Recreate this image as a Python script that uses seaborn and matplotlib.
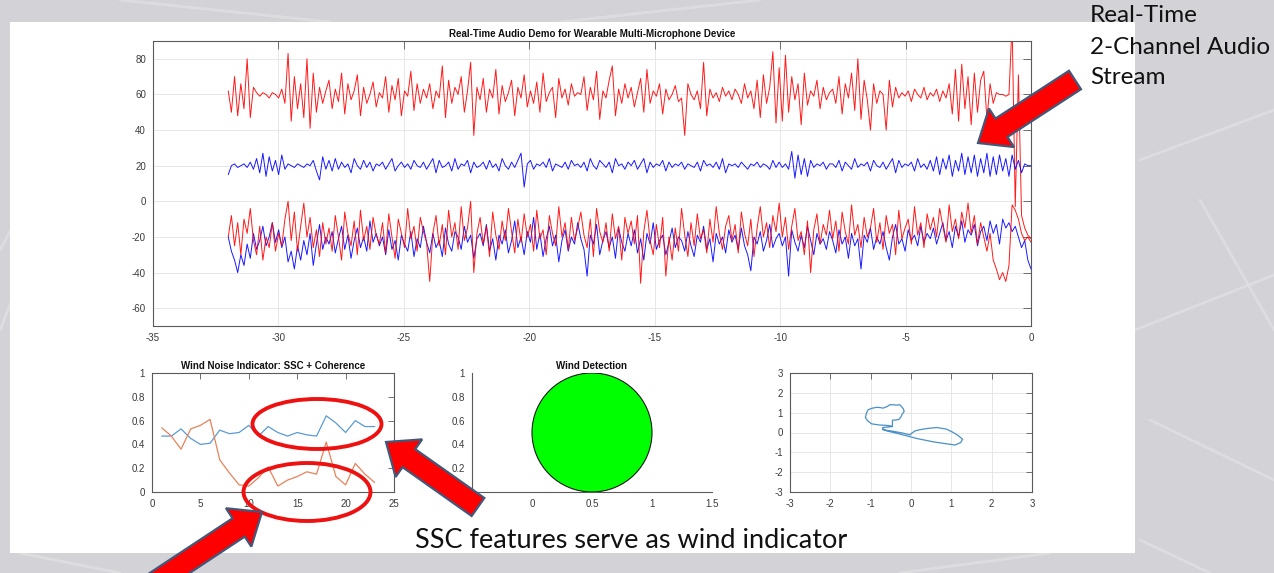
import numpy as np
import matplotlib
matplotlib.use("Agg")
import matplotlib.pyplot as plt
import seaborn as sns
from matplotlib.patches import Rectangle, Ellipse, Polygon
from matplotlib.lines import Line2D

# ---------------------------------------------------------------- data
# Two-channel stream, four traces over the last 32 s (one sample per ~0.125 s)
RED_TOP = [
    62, 50, 70, 48, 66, 52, 80, 47, 64, 61, 59, 61, 60, 58, 61, 60,
    58, 63, 55, 83, 45, 70, 52, 66, 47, 80, 41, 72, 50, 64, 55, 62,
    68, 52, 63, 56, 72, 49, 66, 57, 62, 71, 48, 64, 55, 60, 67, 53,
    61, 58, 70, 50, 65, 57, 69, 48, 62, 59, 73, 51, 66, 55, 63, 58,
    66, 52, 62, 58, 76, 47, 68, 55, 64, 60, 70, 50, 62, 78, 37, 64,
    57, 69, 50, 63, 58, 74, 49, 65, 56, 61, 68, 48, 64, 58, 71, 53,
    62, 55, 67, 50, 72, 56, 61, 64, 47, 69, 58, 63, 54, 66, 59, 61,
    60, 70, 51, 64, 57, 73, 46, 62, 58, 68, 76, 48, 63, 55, 66, 58,
    64, 53, 61, 69, 50, 74, 55, 62, 59, 66, 49, 63, 57, 60, 65, 56,
    58, 37, 66, 60, 57, 62, 52, 78, 48, 63, 58, 61, 56, 64, 59, 62,
    57, 63, 60, 55, 66, 58, 62, 52, 68, 47, 71, 55, 64, 84, 44, 75,
    45, 82, 50, 70, 57, 66, 43, 72, 54, 62, 59, 68, 52, 64, 57, 61,
    63, 55, 70, 49, 66, 58, 72, 51, 80, 46, 68, 57, 40, 66, 55, 62,
    60, 40, 68, 53, 64, 58, 61, 59, 62, 56, 63, 60, 58, 64, 57, 61,
    59, 63, 56, 62, 58, 66, 49, 74, 45, 77, 52, 70, 43, 72, 50, 68,
    73, 46, 66, 55, 61, 60, 60, 59, 60, 100, -3, 71, -8, -15, -19, -21,
]
BLUE_MID = [
    15, 20, 21, 19, 20, 21, 19, 22, 18, 24, 16, 27, 14, 25, 17, 23,
    15, 26, 18, 21, 20, 19, 21, 20, 19, 21, 20, 23, 17, 12, 25, 18,
    23, 17, 24, 18, 22, 19, 21, 16, 24, 20, 18, 23, 19, 22, 17, 21,
    20, 22, 18, 21, 24, 17, 20, 22, 19, 21, 18, 23, 20, 19, 22, 18,
    21, 24, 16, 23, 19, 20, 22, 17, 24, 18, 21, 20, 23, 16, 22, 19,
    20, 22, 18, 23, 19, 21, 17, 24, 20, 18, 22, 19, 23, 27, 8, 21,
    23, 18, 21, 20, 22, 19, 24, 17, 21, 20, 19, 22, 18, 23, 20, 21,
    19, 22, 17, 24, 20, 18, 23, 21, 19, 22, 16, 24, 20, 21, 18, 22,
    20, 23, 18, 21, 24, 16, 22, 19, 21, 20, 23, 17, 22, 19, 21, 20,
    22, 18, 21, 20, 19, 22, 17, 23, 20, 21, 19, 22, 18, 24, 16, 21,
    20, 21, 19, 22, 20, 18, 21, 20, 22, 19, 21, 20, 18, 23, 19, 22,
    19, 21, 18, 28, 13, 26, 15, 24, 14, 23, 19, 21, 20, 22, 18, 21,
    21, 19, 23, 17, 22, 20, 18, 24, 19, 21, 20, 22, 17, 23, 20, 19,
    22, 18, 21, 24, 16, 23, 19, 21, 20, 22, 17, 24, 19, 21, 18, 23,
    17, 25, 15, 24, 18, 26, 14, 23, 17, 27, 15, 25, 16, 26, 14, 24,
    16, 27, 14, 25, 15, 26, 17, 24, 14, 26, 18, 23, 16, 21, 20, 20,
]
RED_BOT = [
    -20, -8, -25, -12, -30, -10, -18, -4, -22, -30, -14, -33, -20, -26, -12, -28,
    -18, -25, -10, 0, -22, -6, -28, -14, -1, -20, -9, -26, -16, -31, -12, -24,
    -15, -28, -8, -20, -33, -6, -18, -25, -11, -30, -5, -22, -14, -27, -9, -19,
    -24, -12, -29, -7, -20, -32, -10, -18, -26, -4, -21, -14, -28, -9, -17, -23,
    -45, -18, -8, -25, -13, -30, -5, -20, -12, -27, -3, -22, -15, 0, -40, -18,
    -9, -24, -14, -31, -6, -19, -27, -11, -22, -4, -17, -29, -10, -23, -7, -20,
    -13, -28, -5, -21, -16, -30, -8, -18, -25, -3, -20, -12, -27, -9, -22, -15,
    -6, -19, -26, -10, -31, -4, -17, -23, -12, -28, -7, -21, -14, -33, -9, -18,
    -11, -24, -8, -46, -17, -5, -22, -30, -13, -26, -9, -42, -20, -33, -15, -28,
    -4, -19, -31, -12, -25, -7, -21, -16, -29, -10, -23, -3, -18, -27, -14, -8,
    -22, -13, -29, -6, -18, -25, -10, -31, -15, -3, -20, -12, -26, -8, -17, -1,
    -20, -9, -27, -14, -4, -22, -17, -30, -11, -40, -16, -7, -24, -13, -19, -5,
    -21, -11, -28, -6, -17, -24, -2, -19, -13, -26, -9, -20, -15, -4, -23, -12,
    -27, -8, -18, -13, -30, -5, -21, -15, -10, -24, -3, -19, -12, -26, -7, -16,
    -9, -20, -4, -14, -23, -2, -17, -10, -21, -6, -15, -1, -18, -8, -24, -12,
    -20, -28, -18, -33, -38, -44, -40, -45, -36, -2, -5, -10, -18, -22, -20, -23,
]
BLUE_BOT = [
    -20, -28, -33, -40, -30, -36, -24, -32, -18, -27, -22, -14, -25, -20, -12, -23,
    -16, -26, -20, -34, -28, -38, -25, -33, -22, -30, -18, -36, -24, -13, -27, -20,
    -24, -17, -29, -21, -14, -27, -19, -32, -22, -15, -26, -20, -28, -11, -23, -18,
    -25, -20, -30, -16, -27, -22, -33, -19, -24, -28, -17, -31, -21, -26, -14, -23,
    -29, -18, -26, -22, -31, -15, -24, -28, -17, -20, -27, -14, -23, -19, -32, -21,
    -18, -25, -13, -28, -21, -33, -19, -24, -16, -29, -22, -11, -26, -20, -30, -17,
    -23, -9, -27, -18, -31, -21, -14, -25, -19, -34, -22, -16, -28, -20, -24, -12,
    -21, -27, -42, -19, -24, -13, -30, -22, -17, -26, -20, -32, -15, -23, -28, -18,
    -25, -16, -29, -21, -33, -18, -24, -12, -27, -22, -19, -30, -23, -15, -26, -20,
    -22, -28, -17, -25, -31, -19, -23, -14, -27, -21, -34, -18, -24, -20, -29, -16,
    -23, -19, -27, -15, -25, -30, -39, -20, -24, -17, -28, -22, -13, -26, -21, -18,
    -25, -20, -42, -16, -23, -28, -19, -26, -14, -22, -30, -18, -24, -21, -27, -17,
    -22, -29, -16, -24, -20, -32, -18, -25, -21, -38, -19, -23, -15, -27, -20, -24,
    -17, -26, -33, -20, -13, -24, -21, -28, -16, -22, -19, -25, -14, -23, -18, -21,
    -15, -24, -18, -12, -22, -17, -26, -14, -20, -11, -23, -16, -19, -13, -25, -17,
    -14, -22, -11, -18, -13, -24, -10, -15, -12, -17, -14, -20, -26, -22, -33, -38,
]

# Wind noise indicator per analysis frame
FRAMES = list(range(1, 24))
COHERENCE = [0.47, 0.47, 0.53, 0.45, 0.40, 0.41, 0.52, 0.49, 0.50, 0.56, 0.47, 0.55,
             0.50, 0.47, 0.50, 0.48, 0.47, 0.64, 0.58, 0.50, 0.60, 0.55, 0.55]
SSC = [0.54, 0.47, 0.36, 0.53, 0.56, 0.61, 0.27, 0.16, 0.06, 0.05, 0.12, 0.21,
       0.05, 0.10, 0.13, 0.17, 0.15, 0.42, 0.13, 0.06, 0.24, 0.15, 0.08]

# Wind detection lamp: centre and radius
LAMP_CENTER = (0.5, 0.5)
LAMP_RADIUS = 0.5

# Phase trajectory of the two channels
TRAJ_X = [-0.46, -0.46, -0.38, -0.30, -0.25, -0.22, -0.17, -0.19, -0.25, -0.28,
          -0.36, -0.44, -0.52, -0.60, -0.69, -0.78, -0.85, -0.97, -1.06, -1.10,
          -1.13, -1.08, -0.98, -0.80, -0.62, -0.50, -0.46, -0.70, -0.70, -0.44,
          -0.20, -0.02, 0.02, 0.10, 0.22, 0.39, 0.64, 0.88, 1.05, 1.18,
          1.28, 1.23, 1.09, 0.88, 0.55, 0.14, -0.27, -0.60, -0.70]
TRAJ_Y = [0.30, 0.62, 0.63, 0.66, 0.78, 0.92, 1.06, 1.20, 1.34, 1.40,
          1.38, 1.40, 1.40, 1.30, 1.23, 1.26, 1.27, 1.22, 1.15, 1.00,
          0.75, 0.60, 0.44, 0.38, 0.36, 0.33, 0.30, 0.25, 0.14, 0.06,
          -0.03, -0.12, -0.03, 0.08, 0.14, 0.20, 0.25, 0.17, 0.00, -0.17,
          -0.34, -0.51, -0.63, -0.57, -0.47, -0.30, -0.08, 0.08, 0.17]

MAIN_TITLE = "Real-Time Audio Demo for Wearable Multi-Microphone Device"
IND_TITLE = "Wind Noise Indicator: SSC + Coherence"
DET_TITLE = "Wind Detection"
CAPTION = "SSC features serve as wind indicator"
SIDE_NOTE = ["Real-Time", "2-Channel Audio", "Stream"]

# ---------------------------------------------------------------- style
sns.set_theme(style="white")
plt.rcParams["font.family"] = ["Liberation Sans", "DejaVu Sans"]
plt.rcParams["axes.unicode_minus"] = False

W, H = 1274, 573
fig = plt.figure(figsize=(W / 100, H / 100), dpi=100)
fig.patch.set_facecolor("#d3d3d7")


def px(x, y):
    return x / W, 1 - y / H


def ax_rect(l, t, r, b):
    return [l / W, 1 - b / H, (r - l) / W, (b - t) / H]


# faint network pattern on the slide background
for (x0, y0, x1, y1) in [(0, 250, 70, 120), (0, 330, 12, 300), (120, 0, 330, 22),
                         (560, 22, 760, 0), (1135, 330, 1274, 275), (1140, 160, 1274, 110),
                         (1150, 420, 1274, 480), (1140, 540, 1210, 573), (1200, 200, 1274, 330),
                         (20, 553, 120, 573), (900, 573, 1050, 553)]:
    a, b = px(x0, y0)
    c, d = px(x1, y1)
    fig.add_artist(Line2D([a, c], [b, d], color="#e0e0e3", lw=2.0, alpha=0.8,
                          zorder=-20, transform=fig.transFigure))

# white figure panel
l0, b0 = px(10, 553)
fig.add_artist(Rectangle((l0, b0), 1125 / W, 531 / H, facecolor="white",
                         edgecolor="none", transform=fig.transFigure, zorder=-10))

SPINE = "#5a5a5a"
LABEL = "#3a3a3a"


def matlab_axes(ax, box=True, grid=False):
    ax.set_facecolor("white")
    for side, sp in ax.spines.items():
        sp.set_color(SPINE)
        sp.set_linewidth(0.8)
        if not box and side in ("top", "right"):
            sp.set_visible(False)
    ax.tick_params(direction="in", length=4, width=0.6, color=SPINE,
                   labelcolor=LABEL, labelsize=7, top=box, right=box,
                   pad=5)
    if grid:
        ax.grid(True, color="#e3e3e3", lw=0.6)
        ax.set_axisbelow(True)
    else:
        ax.grid(False)


# ---------------------------------------------------------------- main stream
ax = fig.add_axes(ax_rect(153, 41, 1031, 326))
matlab_axes(ax, box=True, grid=True)
for series, color in [(RED_TOP, "#ff0000"), (BLUE_MID, "#0000ff"),
                      (BLUE_BOT, "#0000ff"), (RED_BOT, "#ff0000")]:
    t = np.linspace(-32, 0, len(series))
    sns.lineplot(x=t, y=series, color=color, lw=0.7, ax=ax,
                 estimator=None, sort=False, alpha=0.9)
ax.set_xlim(-35, 0)
ax.set_ylim(-70, 90)
ax.set_xticks(np.arange(-35, 1, 5))
ax.set_yticks(np.arange(-60, 81, 20))
ax.tick_params(length=6)
ax.set_xlabel("")
ax.set_ylabel("")
ax.set_title(MAIN_TITLE, fontsize=7, fontweight="bold", color="#111111", pad=3)

# ---------------------------------------------------------------- indicator
ax1 = fig.add_axes(ax_rect(152, 373, 394, 492))
matlab_axes(ax1, box=True, grid=False)
sns.lineplot(x=FRAMES, y=COHERENCE, color="#5b9bd5", lw=0.9, ax=ax1)
sns.lineplot(x=FRAMES, y=SSC, color="#e8825a", lw=0.9, ax=ax1)
ax1.set_xlim(0, 25)
ax1.set_ylim(0, 1)
ax1.set_xticks(np.arange(0, 26, 5))
ax1.set_yticks(np.arange(0, 1.01, 0.2))
ax1.set_yticklabels(["0", "0.2", "0.4", "0.6", "0.8", "1"])
ax1.set_title(IND_TITLE, fontsize=7, fontweight="bold", color="#111111", pad=3)

# ---------------------------------------------------------------- detection lamp
ax2 = fig.add_axes(ax_rect(472, 373, 712, 492))
matlab_axes(ax2, box=False, grid=False)
ax2.add_patch(Ellipse(LAMP_CENTER, 2 * LAMP_RADIUS, 2 * LAMP_RADIUS,
                      facecolor="#00ff00", edgecolor="#1a1a1a", lw=0.8))
ax2.set_xlim(-0.5, 1.5)
ax2.set_ylim(0, 1)
ax2.set_xticks([-0.5, 0, 0.5, 1, 1.5])
ax2.set_xticklabels(["-0.5", "0", "0.5", "1", "1.5"])
ax2.set_yticks([0, 0.2, 0.4, 0.6, 0.8, 1])
ax2.set_yticklabels(["0", "0.2", "0.4", "0.6", "0.8", "1"])
ax2.set_title(DET_TITLE, fontsize=7, fontweight="bold", color="#111111", pad=3)

# ---------------------------------------------------------------- trajectory
ax3 = fig.add_axes(ax_rect(790, 373, 1032, 492))
matlab_axes(ax3, box=True, grid=True)
sns.lineplot(x=TRAJ_X, y=TRAJ_Y, color="#4a90c8", lw=0.9, ax=ax3,
             estimator=None, sort=False)
ax3.set_xlim(-3, 3)
ax3.set_ylim(-3, 3)
ax3.set_xticks(np.arange(-3, 4, 1))
ax3.set_yticks(np.arange(-3, 4, 1))

# ---------------------------------------------------------------- annotations
ANNOT_FONT = ["Lato", "DejaVu Sans"]


def arrow(tail, tip, shaft_w=22, head_w=46, head_l=28):
    p0 = np.array(tail, float)
    p1 = np.array(tip, float)
    u = (p1 - p0) / np.linalg.norm(p1 - p0)
    n = np.array([-u[1], u[0]])
    hb = p1 - u * head_l
    pts = [p0 + n * shaft_w / 2, hb + n * shaft_w / 2, hb + n * head_w / 2, p1,
           hb - n * head_w / 2, hb - n * shaft_w / 2, p0 - n * shaft_w / 2]
    pts = [px(*p) for p in pts]
    fig.add_artist(Polygon(pts, closed=True, facecolor="#ff0000",
                           edgecolor="#41587a", lw=1.6, joinstyle="miter",
                           transform=fig.transFigure, zorder=5))


def ring(cx, cy, w, h):
    fig.add_artist(Ellipse(px(cx, cy), w / W, h / H, facecolor="none",
                           edgecolor="#ee1111", lw=2.8,
                           transform=fig.transFigure, zorder=5))


ring(317, 424, 129, 50)
ring(307, 492, 127, 58)
arrow((1075, 80), (978, 143))
arrow((478, 507), (386, 442))
arrow((150, 586), (262, 512))

fig.text(*px(631, 540), CAPTION, ha="center", va="center", fontsize=19.5,
         color="#111111", family=ANNOT_FONT)
for i, line in enumerate(SIDE_NOTE):
    fig.text(*px(1090, 16 + 31 * i), line, ha="left", va="center",
             fontsize=17.5, color="#111111", family=ANNOT_FONT)

fig.savefig("out.png", dpi=100)
